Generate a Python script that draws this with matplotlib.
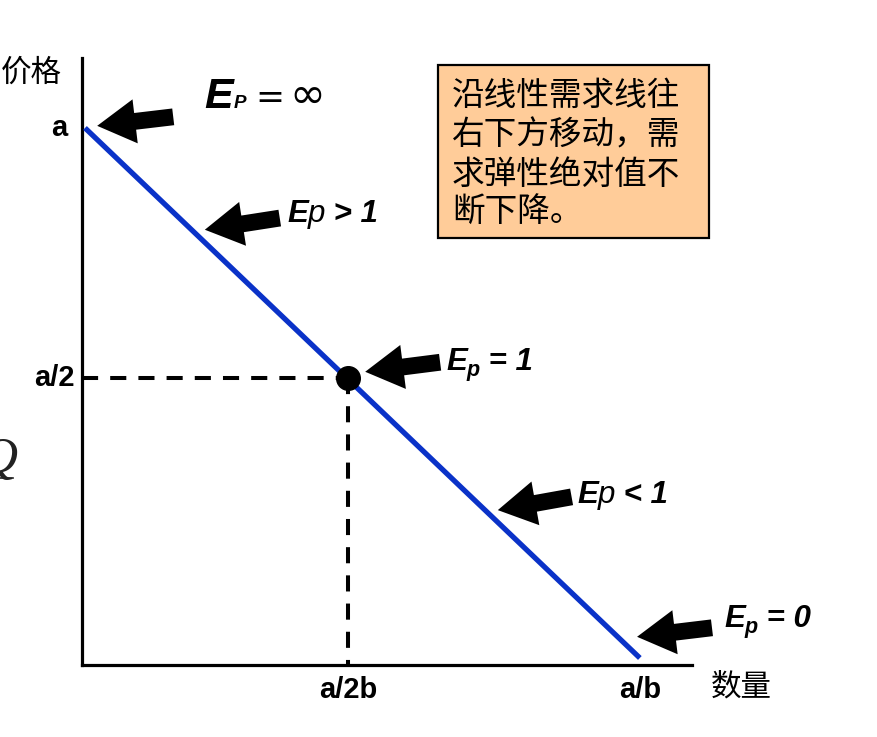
import matplotlib
matplotlib.use("Agg")
import matplotlib.pyplot as plt
from matplotlib.patches import Rectangle
from matplotlib.lines import Line2D

# ---------------- data (normalised: a = 1, a/b = 1) ----------------
line_q = [0.0, 1.0]          # quantity at ends of demand line
line_p = [1.0, 0.0]          # price at ends of demand line
unit_q = 0.474               # marked point (a/2b)
unit_p = 0.528               # marked point (a/2)
xtick_vals = [0.474, 1.0]
xtick_labels = ["a/2b", "a/b"]
ytick_vals = [1.0, 0.528]
ytick_labels = ["a", "a/2"]
# arrows: (tip_q, tip_p, tail_q, tail_p)
arrows = [
    (0.022, 1.004, 0.159, 1.021),
    (0.216, 0.808, 0.351, 0.830),
    (0.505, 0.540, 0.640, 0.558),
    (0.744, 0.279, 0.877, 0.304),
    (0.995, 0.040, 1.130, 0.057),
]
box_lines = ["沿线性需求线往", "右下方移动，需", "求弹性绝对值不", "断下降。"]

W, H = 878, 737
fig = plt.figure(figsize=(W / 100, H / 100), dpi=100)
fig.patch.set_facecolor("white")

def fx(px):
    return px / W

def fy(py):
    return 1 - py / H

ax = fig.add_axes([fx(82), fy(665), fx(692) - fx(82), fy(58) - fy(665)])
ax.set_xlim(-0.0054, 1.094)
ax.set_ylim(-0.0132, 1.132)
for s in ["top", "right"]:
    ax.spines[s].set_visible(False)
for s in ["left", "bottom"]:
    ax.spines[s].set_linewidth(2.3)
    ax.spines[s].set_color("black")
ax.set_xticks([])
ax.set_yticks([])
ax.patch.set_alpha(0)

# dashed guides
ax.plot([ax.get_xlim()[0], unit_q], [unit_p, unit_p], color="black", lw=2.9,
        dashes=(4.0, 3.0), dash_capstyle="butt", zorder=2, clip_on=False)
ax.plot([unit_q, unit_q], [unit_p, ax.get_ylim()[0]], color="black", lw=2.9,
        dashes=(4.0, 3.0), dash_capstyle="butt", zorder=2, clip_on=False)

# demand line
ax.plot(line_q, line_p, color="#0A32C8", lw=3.8, solid_capstyle="butt", zorder=3, clip_on=False)
ax.plot([unit_q], [unit_p], "o", color="black", ms=17, zorder=4)

# arrows
for tq, tp, sq, sp in arrows:
    ax.annotate("", xy=(tq, tp), xytext=(sq, sp), annotation_clip=False,
                arrowprops=dict(arrowstyle="simple,head_length=1.25,head_width=1.45,tail_width=0.55",
                                fc="black", ec="black", lw=0, mutation_scale=22,
                                shrinkA=0, shrinkB=0))

# tick labels
tick_font = dict(family="Liberation Sans", weight="bold", size=21)
for v, lab in zip(xtick_vals, xtick_labels):
    ax.annotate(lab, xy=(v, 0), xycoords=("data", "axes fraction"), xytext=(0, -18),
                textcoords="offset points", ha="center", va="center", annotation_clip=False, **tick_font)
offsets = [-15, -7]
for v, lab, off in zip(ytick_vals, ytick_labels, offsets):
    ax.annotate(lab, xy=(0, v), xycoords=("axes fraction", "data"), xytext=(off * 0.72, 0),
                textcoords="offset points", ha="right", va="center", annotation_clip=False, **tick_font)

cjk = ["Noto Sans CJK SC", "DejaVu Sans"]
fig.text(fx(31), fy(73), "价格", family=cjk, size=22, ha="center", va="center")
fig.text(fx(741), fy(687), "数量", family=cjk, size=22, ha="center", va="center")

# clipped Q at left edge
fig.text(fx(17), fy(472), "Q", family="Liberation Serif", style="italic", size=37,
         ha="right", va="baseline", color="#222222")
fig.add_artist(Line2D([fx(0), fx(13)], [fy(478), fy(478)], color="#222222", lw=1.2))

# info box
fig.add_artist(Rectangle((fx(438), fy(238)), fx(709) - fx(438), fy(65) - fy(238),
                         transform=fig.transFigure, facecolor="#FFCC99", edgecolor="black", lw=1.6))
for yc, line in zip([95.5, 136, 175, 212], box_lines):
    fig.text(fx(452), fy(yc), line, family=cjk, size=23.5, ha="left", va="center")

# rich labels
fig.canvas.draw()
renderer = fig.canvas.get_renderer()

def rich(x_px, base_px, pieces):
    x = x_px
    for txt, kw in pieces:
        kw = dict(kw)
        dy = kw.pop("dy", 0)
        gap = kw.pop("gap", 0)
        x += gap
        t = fig.text(fx(x), fy(base_px + dy), txt, ha="left", va="baseline", **kw)
        bb = t.get_window_extent(renderer)
        x += bb.width

BI = dict(family="Liberation Sans", weight="bold", style="italic")
IT = dict(family="Liberation Sans", style="italic")

rich(204, 108, [("E", dict(size=31, **BI)), ("P", dict(size=13.5, **BI, gap=1)),
                ("=", dict(size=25, family="DejaVu Sans", gap=9)),
                ("∞", dict(size=31, family="DejaVu Sans", gap=5))])
rich(287, 222, [("E", dict(size=22.5, **BI)), ("p", dict(size=22.5, **IT)), (" > 1", dict(size=22.5, **BI))])
rich(446, 370, [("E", dict(size=22.5, **BI)), ("p", dict(size=15.5, dy=6, **BI)), (" = 1", dict(size=22.5, **BI))])
rich(577, 503, [("E", dict(size=22.5, **BI)), ("p", dict(size=22.5, **IT)), (" < 1", dict(size=22.5, **BI))])
rich(724, 627, [("E", dict(size=22.5, **BI)), ("p", dict(size=15.5, dy=6, **BI)), (" = 0", dict(size=22.5, **BI))])

fig.savefig("out.png", dpi=100, facecolor="white")
